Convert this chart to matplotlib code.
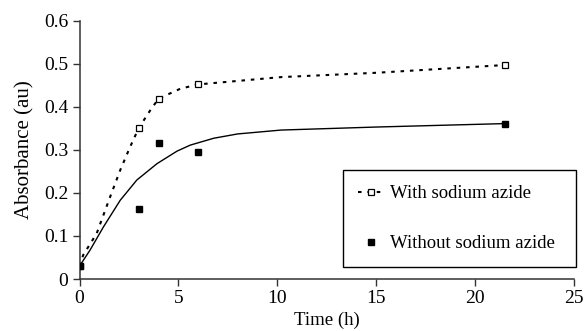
import matplotlib
matplotlib.use("Agg")
import matplotlib.pyplot as plt

# Measured data points
time_h = [0, 3, 4, 6, 21.5]
with_azide = [0.03, 0.351, 0.419, 0.452, 0.497]
without_azide = [0.03, 0.162, 0.316, 0.295, 0.361]

# Smoothed line through the "with" series
with_curve_t = [0, 0.19, 0.87, 1.55, 2.06, 2.56, 3.0, 3.58, 4.0, 5.1, 6.0, 10.2, 15.0, 21.5]
with_curve_y = [0.03, 0.056, 0.106, 0.191, 0.253, 0.307, 0.351, 0.392, 0.419, 0.442, 0.452, 0.469, 0.479, 0.497]

# Fitted trend line for the "without" series
fit_t = [0, 0.53, 1.21, 2.06, 2.9, 3.92, 4.93, 5.6, 6.79, 8.0, 10.2, 15.0, 21.5]
fit_y = [0.03, 0.067, 0.121, 0.183, 0.230, 0.268, 0.297, 0.311, 0.327, 0.337, 0.346, 0.353, 0.361]

x_ticks = [0, 5, 10, 15, 20, 25]
y_ticks = [0, 0.1, 0.2, 0.3, 0.4, 0.5, 0.6]
y_ticklabels = ["0", "0.1", "0.2", "0.3", "0.4", "0.5", "0.6"]

plt.rcParams['font.family'] = ['Liberation Serif', 'DejaVu Serif']

fig = plt.figure(figsize=(5.85, 3.31), dpi=100)
ax = fig.add_axes([0.1359, 0.157, 0.8451, 0.7805])

ax.plot(fit_t, fit_y, color='black', lw=1.0, zorder=2)
ax.plot(with_curve_t, with_curve_y, color='black', lw=1.5,
        linestyle=(0, (1.7, 2.8)), zorder=2)

h1, = ax.plot([], [], color='black', lw=1.5, linestyle=(0, (1.7, 2.8)),
              marker='s', markersize=4.3, markerfacecolor='white',
              markeredgecolor='black', markeredgewidth=0.9,
              label='With sodium azide')
ax.plot(time_h, with_azide, linestyle='none', marker='s', markersize=4.3,
        markerfacecolor='white', markeredgecolor='black',
        markeredgewidth=0.9, zorder=3)
h2, = ax.plot(time_h, without_azide, linestyle='none', marker='s',
              markersize=4.3, color='black', zorder=3,
              label='Without sodium azide')

ax.set_xlim(0, 25)
ax.set_ylim(0, 0.6)
ax.set_xticks(x_ticks)
ax.set_yticks(y_ticks)
ax.set_yticklabels(y_ticklabels)
ax.tick_params(axis='both', direction='out', length=5, width=1,
               labelsize=14, color='#333333', pad=3)
for s in ['top', 'right']:
    ax.spines[s].set_visible(False)
for s in ['left', 'bottom']:
    ax.spines[s].set_linewidth(1.1)
    ax.spines[s].set_color('#333333')

ax.set_xlabel('Time (h)', fontsize=13.5, labelpad=3)
ax.set_ylabel('Absorbance (au)', fontsize=15, labelpad=7)

leg = ax.legend(handles=[h1, h2], loc='lower left',
                bbox_to_anchor=(0.533, 0.046, 0.471, 0.38), mode='expand',
                fontsize=13.5, frameon=True, fancybox=False,
                edgecolor='black', framealpha=1, borderpad=0.8,
                labelspacing=1.75, handlelength=1.4, handletextpad=0.3,
                borderaxespad=0)
leg.get_frame().set_linewidth(1.0)

fig.savefig('out.png', dpi=100, facecolor='white')
